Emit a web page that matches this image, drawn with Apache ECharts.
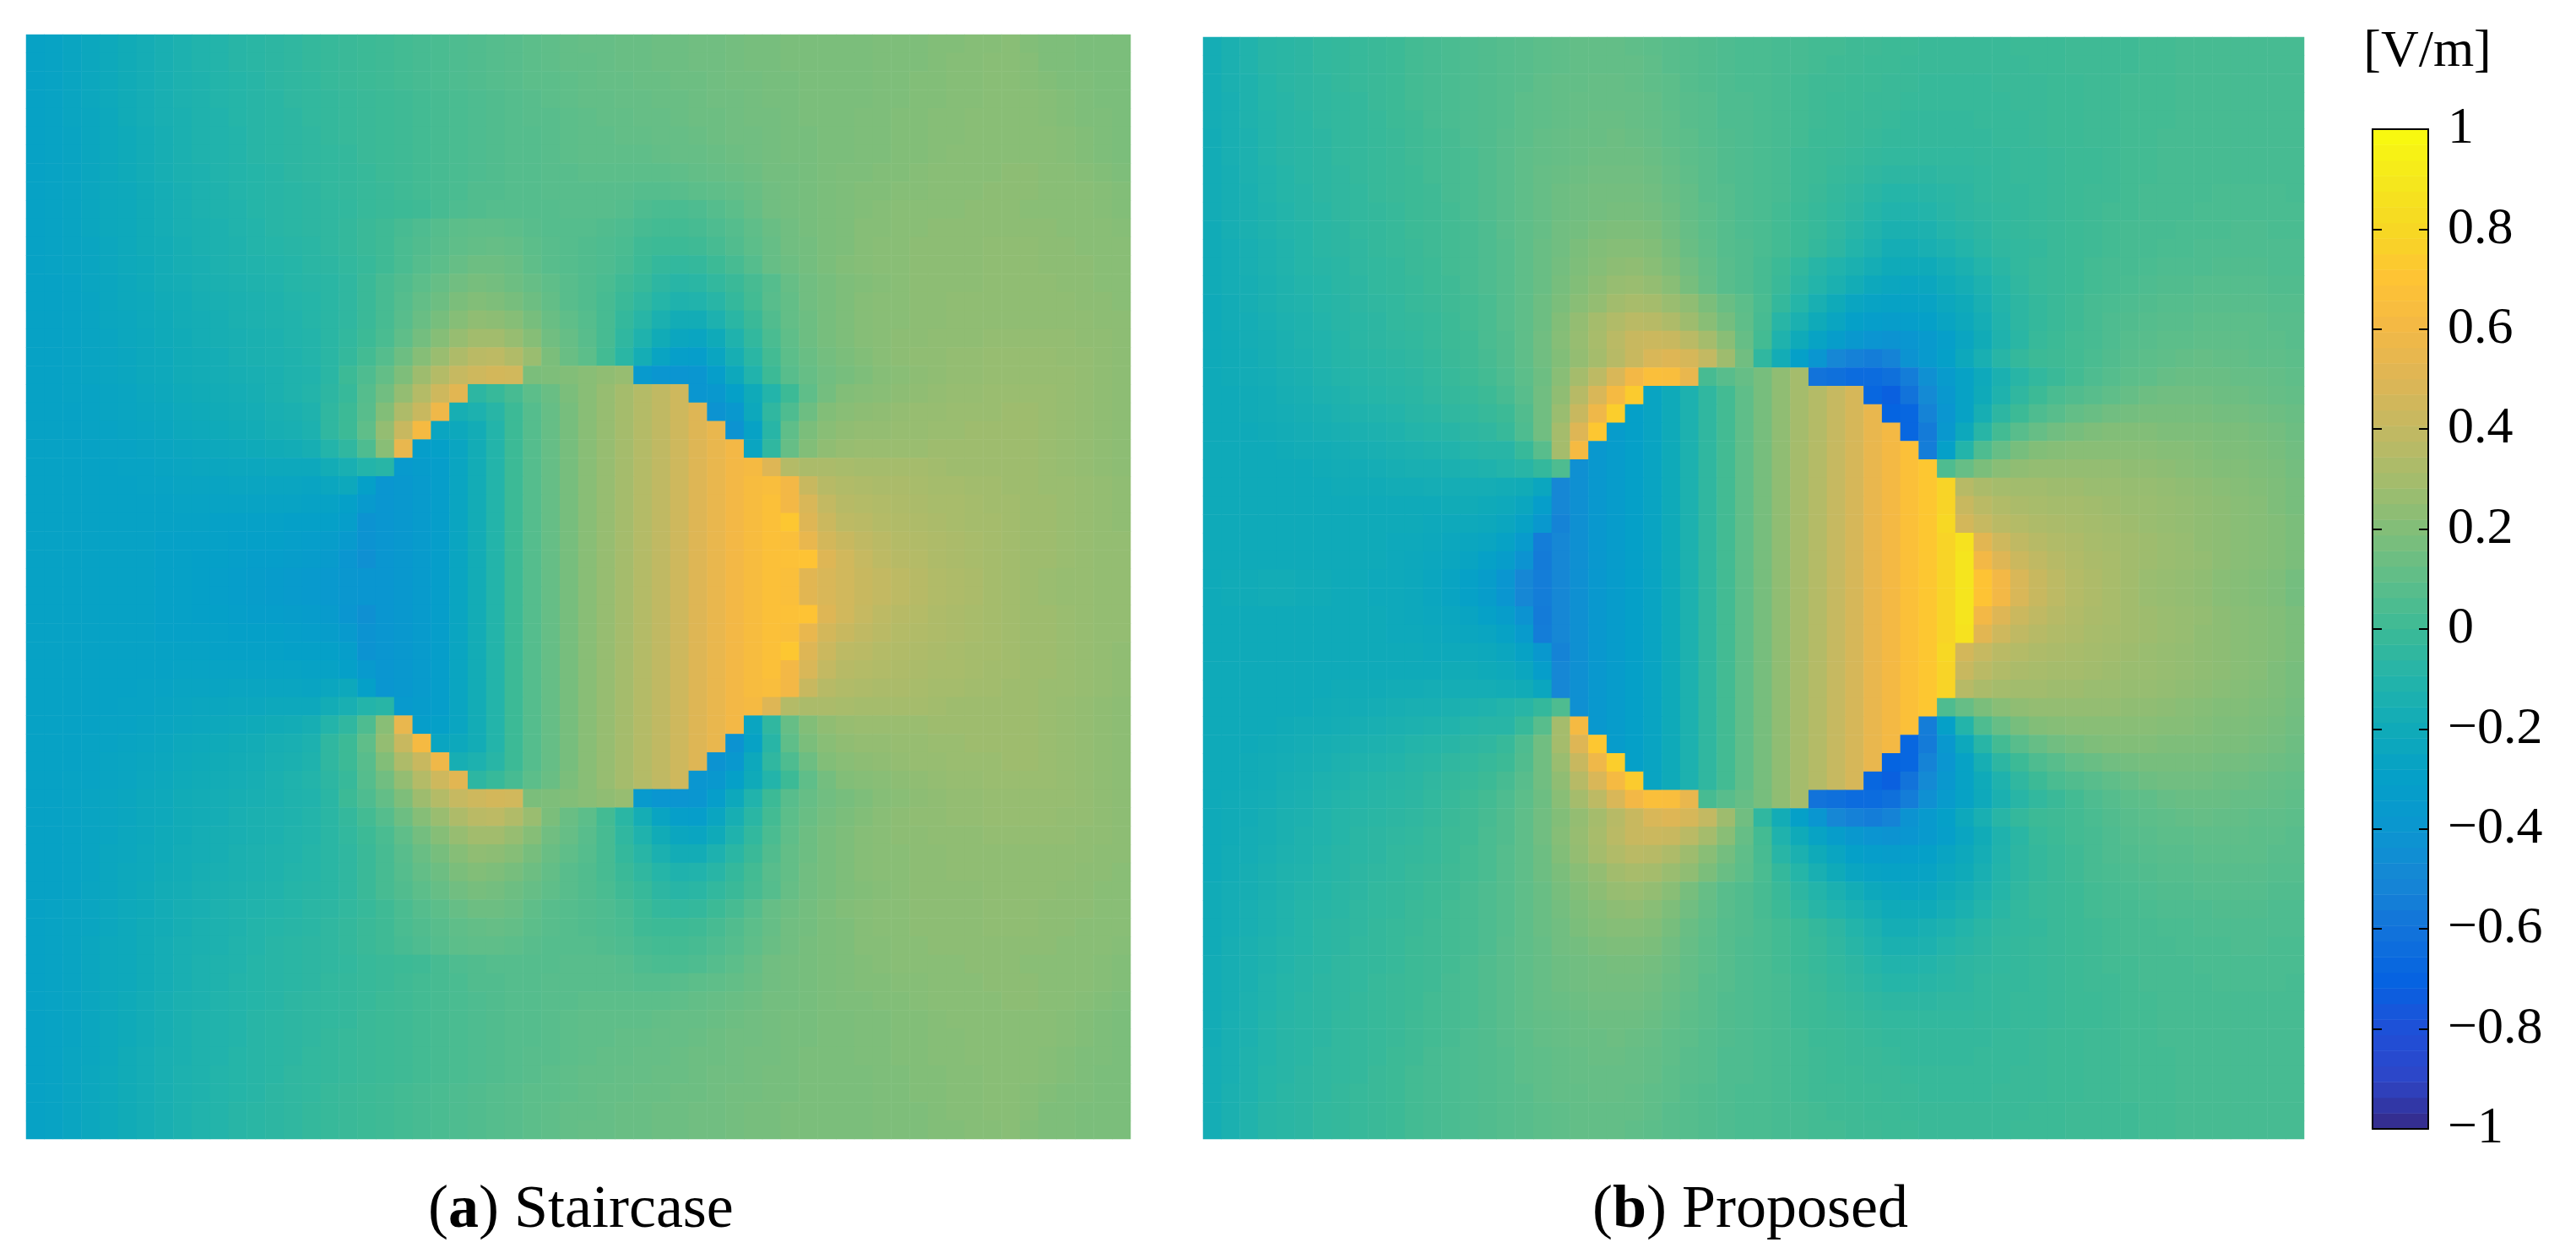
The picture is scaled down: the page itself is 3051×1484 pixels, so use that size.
<!DOCTYPE html>
<html><head><meta charset="utf-8">
<style>html,body{margin:0;padding:0;background:#fff}#c{width:3051px;height:1484px}</style>
<script src="https://cdn.jsdelivr.net/npm/echarts@6/dist/echarts.min.js"></script>
</head><body><div id="c"></div>
<script>
// Field values in hundredths of V/m, top half of each panel (60 columns); the bottom half is the mirror image.
const staircaseTopRows = [
[-28,-27,-25,-23,-21,-19,-17,-15,-13,-11,-10,-8,-7,-6,-5,-3,-2,-1,0,1,2,3,4,5,6,7,8,9,10,11,12,12,13,13,14,14,15,15,16,17,17,18,18,18,18,18,19,19,19,20,20,21,21,22,20,19,19,18,18,18],
[-28,-27,-25,-23,-21,-19,-17,-15,-13,-11,-10,-8,-7,-6,-5,-3,-2,-1,0,1,2,3,4,5,6,7,8,9,10,11,11,12,13,13,14,14,15,15,16,17,17,18,18,18,18,18,19,19,19,20,21,21,22,22,21,19,19,18,18,18],
[-28,-27,-25,-23,-21,-19,-17,-15,-13,-12,-10,-9,-8,-6,-5,-4,-2,-1,0,1,2,3,4,5,6,7,8,9,9,10,11,12,12,13,13,14,14,15,16,16,17,17,18,18,18,18,19,19,20,20,21,21,22,22,21,20,19,19,18,18],
[-28,-27,-25,-23,-21,-19,-17,-15,-13,-12,-10,-9,-8,-7,-5,-4,-3,-2,-1,0,1,2,3,4,5,6,7,8,9,10,11,11,12,12,13,13,14,15,15,16,17,17,18,18,18,18,19,19,20,20,21,21,22,22,22,21,20,19,18,18],
[-28,-27,-25,-24,-22,-19,-17,-15,-14,-12,-11,-9,-8,-7,-6,-4,-3,-2,-1,0,1,2,3,4,5,6,7,8,8,9,10,11,11,12,12,13,14,14,15,16,16,17,18,18,18,19,19,20,20,21,21,22,22,22,22,21,20,19,19,18],
[-28,-27,-26,-24,-22,-20,-18,-16,-14,-12,-11,-10,-8,-7,-6,-5,-3,-2,-1,0,1,2,3,4,5,6,7,7,8,9,10,10,11,11,12,12,13,14,15,15,16,17,17,18,18,19,19,20,20,21,21,22,22,22,22,22,21,20,19,18],
[-28,-27,-26,-24,-22,-20,-18,-16,-14,-12,-11,-10,-8,-7,-6,-5,-4,-3,-1,0,1,2,3,4,5,6,7,7,8,9,10,10,10,10,11,12,12,13,14,15,16,17,17,18,18,19,19,20,20,21,22,22,22,22,22,22,21,20,19,18],
[-28,-27,-26,-24,-22,-20,-18,-16,-14,-13,-11,-10,-9,-8,-6,-5,-4,-3,-2,0,1,2,3,4,5,6,7,7,8,8,9,9,9,9,9,10,11,12,13,14,16,16,17,18,19,19,20,20,21,22,22,22,22,23,23,22,22,21,20,19],
[-28,-27,-26,-24,-22,-21,-19,-17,-15,-13,-12,-10,-9,-8,-7,-6,-4,-3,-2,-1,1,2,3,4,6,6,7,7,8,8,8,8,8,7,7,8,9,10,11,13,15,16,17,18,19,20,20,21,21,22,22,22,23,23,23,22,22,22,21,20],
[-28,-27,-26,-24,-22,-21,-19,-17,-15,-13,-12,-11,-9,-8,-7,-6,-5,-4,-2,-1,0,1,3,5,6,7,7,7,7,8,8,8,7,5,4,4,5,7,9,12,15,16,17,18,19,20,21,22,22,22,22,23,23,23,22,22,22,22,21,20],
[-28,-27,-26,-24,-22,-21,-19,-17,-15,-14,-13,-11,-10,-8,-7,-6,-5,-3,-1,1,3,5,7,9,10,10,9,8,7,7,7,6,5,3,2,2,3,5,7,10,13,15,17,18,19,21,21,22,22,23,23,23,23,23,23,23,22,22,22,21],
[-28,-27,-26,-25,-23,-21,-19,-18,-16,-14,-13,-12,-10,-9,-8,-7,-5,-3,-1,1,4,6,8,10,11,12,11,9,8,7,6,5,4,1,0,0,1,3,6,9,12,15,16,18,19,21,22,22,23,23,23,23,24,24,24,23,23,22,22,22],
[-28,-27,-26,-25,-23,-21,-20,-18,-16,-15,-13,-12,-11,-10,-9,-7,-6,-4,-2,1,4,7,9,12,14,14,13,10,8,7,6,5,3,0,-3,-4,-3,0,3,7,12,14,16,18,20,21,22,22,23,23,23,23,24,24,24,23,23,23,22,22],
[-28,-28,-27,-25,-24,-22,-20,-18,-17,-15,-14,-13,-12,-11,-9,-8,-7,-5,-1,3,6,9,12,15,17,16,14,12,10,8,6,4,1,-2,-6,-8,-7,-4,-1,3,7,12,15,17,19,20,21,22,23,23,23,23,24,24,24,24,23,23,22,22],
[-28,-28,-27,-26,-24,-22,-21,-19,-18,-16,-15,-14,-13,-12,-10,-9,-7,-5,-1,3,7,11,14,18,20,19,17,14,11,8,6,3,-1,-5,-9,-12,-11,-8,-3,2,8,11,15,17,19,21,22,22,23,23,24,24,24,24,24,24,24,23,23,22],
[-28,-28,-27,-26,-24,-23,-21,-20,-18,-17,-16,-14,-13,-12,-11,-9,-7,-5,-1,3,8,13,17,21,24,23,21,17,13,10,7,3,-3,-8,-14,-18,-18,-13,-7,-1,6,11,14,17,19,21,22,22,23,23,24,24,24,24,24,24,24,24,23,23],
[-28,-28,-27,-26,-25,-23,-22,-20,-19,-17,-16,-15,-14,-13,-11,-10,-7,-4,0,4,10,16,21,26,29,29,26,21,15,12,8,3,-5,-12,-19,-24,-25,-20,-12,-4,4,10,14,17,19,21,22,23,23,24,24,24,25,25,25,25,25,24,24,23],
[-28,-28,-27,-26,-25,-24,-22,-21,-19,-18,-17,-15,-14,-13,-12,-10,-7,-3,2,7,14,21,27,33,37,38,34,27,18,13,9,2,-7,-17,-26,-31,-32,-25,-16,-7,2,9,13,16,18,20,22,23,24,24,25,25,26,26,26,26,25,25,24,23],
[-28,-28,-27,-26,-25,-24,-22,-21,-19,-18,-17,-16,-15,-14,-12,-11,-7,0,5,11,19,28,35,41,44,46,45,18,19,20,22,24,26,-36,-40,-41,-40,-32,-22,-11,0,8,12,15,17,19,21,22,23,24,25,25,26,26,26,26,26,25,24,23],
[-28,-28,-27,-27,-26,-25,-23,-22,-20,-19,-18,-17,-16,-14,-12,-10,-6,-2,7,15,25,35,44,52,-6,-2,3,9,13,18,22,26,30,35,39,44,-40,-38,-30,-20,-10,0,10,16,20,21,22,23,24,25,26,26,27,27,27,27,26,25,24,23],
[-28,-28,-28,-27,-26,-25,-24,-23,-21,-20,-19,-18,-17,-15,-14,-12,-5,0,8,20,33,42,58,-16,-13,-8,0,7,12,17,22,26,30,35,39,44,50,-42,-38,-22,-5,5,14,20,22,23,24,25,26,26,27,27,27,28,28,27,26,25,24,23],
[-28,-28,-28,-27,-27,-26,-25,-24,-22,-21,-20,-19,-18,-16,-15,-13,-5,0,10,25,42,62,-25,-22,-18,-10,0,7,12,17,22,26,30,35,39,44,50,55,-42,-28,-8,10,18,22,24,25,25,26,26,27,27,28,28,28,28,27,26,25,24,23],
[-28,-28,-28,-28,-27,-27,-26,-25,-24,-23,-22,-21,-20,-19,-18,-16,-10,-5,5,22,55,-32,-30,-25,-18,-10,0,7,12,17,22,26,30,35,39,44,50,55,60,-25,-5,12,20,24,26,27,27,27,27,28,28,28,28,28,28,27,26,25,24,23],
[-28,-28,-28,-28,-28,-27,-27,-26,-25,-24,-24,-23,-23,-22,-22,-22,-18,-15,-10,-8,-36,-34,-32,-25,-18,-10,0,7,12,17,22,26,30,35,39,44,50,55,60,62,50,35,32,32,31,30,30,30,30,29,28,28,28,28,28,27,26,25,24,23],
[-28,-28,-28,-28,-28,-28,-27,-27,-26,-26,-26,-25,-25,-25,-25,-26,-24,-22,-30,-40,-38,-35,-32,-25,-18,-10,0,7,12,17,22,26,30,35,39,44,50,55,60,64,65,60,42,36,34,33,32,32,31,30,30,29,29,28,28,27,27,26,25,24],
[-28,-28,-28,-28,-28,-28,-28,-28,-27,-27,-27,-27,-27,-27,-27,-28,-28,-30,-36,-40,-38,-35,-32,-25,-18,-10,0,7,12,17,22,26,30,35,39,44,50,55,60,64,67,60,48,40,36,35,34,33,32,31,31,30,29,29,28,28,27,26,25,24],
[-28,-28,-28,-28,-28,-28,-28,-28,-28,-28,-29,-29,-29,-29,-30,-30,-30,-32,-42,-40,-38,-35,-32,-25,-18,-10,0,7,12,17,22,26,30,35,39,44,50,55,60,64,67,72,50,43,38,37,35,34,33,32,31,30,30,29,28,28,27,26,25,24],
[-28,-28,-28,-28,-28,-28,-28,-29,-29,-29,-29,-30,-30,-30,-31,-32,-33,-36,-42,-40,-38,-35,-32,-25,-18,-10,0,7,12,17,22,26,30,35,39,44,50,55,60,64,67,66,55,46,42,39,37,35,34,33,32,31,30,29,28,28,27,26,25,25],
[-28,-28,-28,-28,-28,-28,-28,-29,-29,-30,-30,-31,-32,-32,-33,-34,-35,-40,-44,-40,-38,-35,-32,-25,-18,-10,0,7,12,17,22,26,30,35,39,44,50,55,60,64,67,68,70,50,45,41,38,36,35,33,32,31,30,29,28,28,27,26,25,25],
[-28,-28,-28,-28,-28,-28,-28,-29,-29,-30,-31,-32,-33,-34,-35,-36,-37,-39,-40,-40,-38,-35,-32,-25,-18,-10,0,7,12,17,22,26,30,35,39,44,50,55,60,64,67,66,52,48,45,42,40,38,36,34,33,32,30,29,28,27,26,26,25,25]
];
const proposedTopRows = [
[-17,-14,-11,-8,-7,-6,-4,-3,-2,-1,0,2,3,4,5,6,7,8,9,10,11,11,11,10,9,8,7,6,5,4,4,3,3,2,2,1,1,0,0,-1,-1,-1,-1,-1,0,0,0,1,1,1,1,2,2,3,3,3,3,3,3,3],
[-17,-14,-11,-8,-7,-6,-4,-3,-2,-1,0,2,3,4,5,6,7,8,9,10,11,11,11,11,10,8,7,6,5,4,4,3,3,2,1,1,0,0,-1,-1,-1,-1,-1,-1,-1,0,0,1,1,1,1,2,2,3,3,3,3,3,3,3],
[-17,-14,-12,-9,-7,-6,-5,-3,-2,-1,0,2,3,4,5,6,7,8,10,11,11,12,12,11,10,9,7,6,5,4,4,3,2,1,1,0,0,-1,-1,-2,-2,-2,-2,-1,-1,-1,0,0,1,1,2,2,2,3,3,3,3,3,3,3],
[-17,-15,-12,-9,-8,-6,-5,-4,-3,-1,0,2,3,4,5,6,7,9,10,11,12,12,12,12,11,9,8,7,5,5,4,3,2,1,0,0,-1,-1,-2,-2,-2,-2,-2,-2,-1,-1,0,0,1,1,2,2,2,3,3,3,3,3,3,3],
[-17,-15,-12,-10,-8,-7,-5,-4,-3,-2,0,1,3,4,5,6,7,9,10,11,12,13,13,12,11,10,8,7,5,5,4,3,2,1,0,-1,-1,-2,-3,-3,-3,-3,-2,-2,-2,-1,0,0,1,1,2,2,2,3,3,3,3,3,3,3],
[-18,-15,-13,-10,-8,-7,-6,-4,-3,-2,-1,1,2,3,5,6,8,9,11,12,13,13,14,13,12,10,9,7,6,5,4,3,2,0,0,-1,-2,-3,-3,-3,-3,-3,-3,-2,-2,-1,0,0,1,1,2,2,3,3,3,3,3,3,3,3],
[-18,-15,-13,-10,-8,-7,-6,-4,-3,-2,-1,1,2,3,4,6,8,10,11,12,13,14,14,14,13,11,9,8,6,5,4,3,1,0,-1,-2,-3,-4,-4,-4,-4,-4,-3,-3,-2,-2,-1,0,0,1,2,2,3,3,3,3,3,3,3,3],
[-18,-16,-13,-11,-9,-7,-6,-5,-3,-2,-1,0,2,3,4,6,8,10,12,13,14,15,15,15,14,12,10,8,6,5,4,3,1,0,-2,-3,-5,-6,-6,-6,-5,-5,-4,-3,-2,-2,-1,0,0,1,2,2,3,3,3,3,3,3,3,3],
[-18,-16,-14,-11,-9,-8,-6,-5,-4,-2,-1,0,1,3,4,6,8,10,12,14,15,16,16,16,15,13,11,8,7,5,4,3,1,-1,-3,-5,-7,-9,-9,-8,-7,-6,-4,-3,-3,-2,-1,0,1,1,2,3,3,3,3,4,4,4,4,3],
[-18,-16,-14,-12,-10,-8,-7,-5,-4,-3,-2,0,1,2,4,6,8,10,12,14,15,16,17,17,16,14,11,9,7,5,4,2,0,-2,-4,-6,-9,-11,-11,-10,-8,-6,-5,-4,-3,-2,-1,0,1,2,2,3,3,3,4,4,4,4,4,4],
[-19,-16,-14,-12,-10,-9,-7,-6,-4,-3,-2,0,1,2,3,5,8,10,12,15,16,18,19,19,18,15,12,9,7,5,4,2,0,-2,-5,-8,-11,-14,-14,-13,-10,-8,-6,-4,-3,-2,-1,0,1,2,3,3,3,4,4,4,5,5,4,4],
[-19,-17,-15,-13,-11,-9,-7,-6,-5,-3,-2,-1,1,2,3,5,7,10,13,15,18,20,21,21,20,17,13,10,7,6,4,2,0,-3,-6,-10,-13,-17,-17,-15,-13,-10,-7,-5,-4,-3,-1,0,1,2,3,3,4,4,5,5,5,5,5,5],
[-19,-17,-15,-13,-11,-9,-8,-7,-5,-4,-3,-1,0,2,3,5,7,10,13,16,19,21,23,24,22,19,15,11,8,6,3,0,-4,-8,-11,-14,-17,-20,-20,-20,-17,-14,-10,-7,-4,-2,-1,0,2,3,3,4,5,5,5,6,6,6,5,5],
[-19,-17,-16,-14,-12,-10,-9,-7,-6,-4,-3,-2,0,1,3,5,7,10,13,17,20,23,26,27,25,22,17,12,8,6,3,-1,-6,-10,-14,-18,-22,-24,-25,-24,-20,-17,-13,-9,-5,-2,-1,0,2,3,4,5,6,6,7,7,7,7,6,6],
[-20,-18,-16,-14,-12,-11,-9,-8,-6,-5,-4,-2,-1,1,2,4,7,10,14,18,22,25,29,31,30,27,24,18,13,9,4,-3,-9,-15,-20,-25,-27,-28,-28,-27,-23,-20,-15,-10,-6,-3,-1,1,3,4,5,6,7,7,8,8,8,8,7,7],
[-20,-18,-17,-15,-13,-12,-10,-8,-7,-6,-4,-3,-2,0,2,4,7,10,14,20,25,30,34,37,36,33,28,22,16,10,3,-8,-14,-20,-25,-30,-32,-33,-32,-30,-26,-22,-17,-11,-6,-3,-1,1,3,5,6,7,8,8,9,9,9,9,8,8],
[-20,-19,-17,-16,-14,-12,-11,-9,-7,-6,-5,-4,-2,0,1,4,6,10,15,21,26,31,37,42,43,42,37,30,22,12,2,-12,-20,-27,-33,-38,-41,-42,-40,-36,-31,-25,-19,-12,-7,-2,0,2,3,5,7,8,9,9,10,10,10,9,9,8],
[-20,-19,-18,-16,-14,-13,-11,-9,-8,-7,-6,-5,-3,-1,1,3,6,10,15,20,25,30,36,42,48,50,47,40,28,15,-5,-18,-30,-40,-50,-53,-55,-52,-42,-36,-30,-22,-15,-8,-3,0,1,2,4,6,8,9,10,11,12,11,11,10,10,9],
[-20,-19,-18,-17,-15,-14,-12,-10,-9,-8,-7,-6,-4,-2,0,2,5,9,14,22,30,38,48,60,66,65,55,3,8,12,17,24,30,-60,-62,-65,-65,-62,-55,-44,-35,-28,-21,-14,-8,-4,-1,2,5,7,9,10,12,13,13,13,12,12,11,10],
[-20,-20,-19,-18,-16,-15,-13,-12,-10,-9,-8,-7,-5,-3,-2,0,3,8,15,24,36,48,62,74,-26,-20,-13,-5,2,10,17,24,30,35,41,47,-68,-72,-60,-48,-38,-28,-20,-12,-5,0,4,6,8,10,12,14,15,15,15,14,14,13,12,11],
[-20,-20,-19,-18,-17,-16,-15,-13,-12,-11,-10,-8,-7,-5,-4,-2,0,6,15,27,42,58,75,-30,-26,-20,-13,-5,2,10,17,24,30,35,41,47,55,-70,-68,-52,-40,-28,-16,-6,0,5,8,11,13,15,16,17,17,17,17,16,16,15,14,13],
[-20,-20,-20,-19,-18,-17,-16,-15,-14,-13,-12,-10,-9,-8,-6,-5,-2,5,15,30,50,72,-34,-30,-26,-20,-13,-5,2,10,17,24,30,35,41,47,55,61,-68,-56,-38,-22,-8,2,8,12,15,17,19,20,20,20,19,19,19,18,18,17,16,14],
[-20,-20,-20,-20,-19,-18,-18,-17,-16,-15,-14,-13,-12,-11,-9,-8,-8,-2,8,30,62,-38,-34,-30,-26,-20,-13,-5,2,10,17,24,30,35,41,47,55,61,67,-55,-30,-10,5,12,17,20,21,22,22,22,22,22,21,21,20,19,19,18,17,15],
[-20,-20,-20,-20,-20,-20,-19,-18,-18,-17,-16,-15,-15,-14,-13,-12,-10,-8,-3,5,-44,-38,-34,-30,-26,-20,-13,-5,2,10,17,24,30,35,41,47,55,61,67,72,5,12,18,22,24,25,25,25,25,25,24,24,23,22,21,20,20,19,18,16],
[-20,-20,-20,-20,-20,-20,-20,-19,-19,-19,-18,-18,-17,-17,-17,-17,-18,-19,-24,-50,-44,-38,-34,-30,-26,-20,-13,-5,2,10,17,24,30,35,41,47,55,61,67,72,78,36,32,30,29,29,28,28,27,27,26,26,25,24,23,22,21,20,19,17],
[-20,-20,-20,-20,-20,-20,-20,-20,-20,-20,-20,-20,-20,-19,-19,-20,-21,-24,-32,-50,-44,-38,-34,-30,-26,-20,-13,-5,2,10,17,24,30,35,41,47,55,61,67,72,78,42,37,34,32,31,30,30,29,28,27,27,26,25,24,23,22,21,19,17],
[-20,-20,-20,-20,-20,-20,-20,-20,-20,-20,-20,-20,-21,-21,-21,-22,-24,-28,-38,-52,-44,-38,-34,-30,-26,-20,-13,-5,2,10,17,24,30,35,41,47,55,61,67,72,80,46,41,37,35,33,32,31,30,29,28,27,26,25,24,23,22,21,20,18],
[-20,-20,-20,-20,-20,-20,-20,-20,-20,-20,-21,-21,-22,-23,-24,-25,-28,-35,-55,-50,-44,-38,-34,-30,-26,-20,-13,-5,2,10,17,24,30,35,41,47,55,61,67,72,78,86,52,44,39,36,34,33,31,30,29,28,27,26,24,23,22,21,20,18],
[-20,-20,-20,-20,-20,-20,-20,-20,-20,-20,-21,-22,-23,-24,-26,-29,-33,-42,-56,-50,-44,-38,-34,-30,-26,-20,-13,-5,2,10,17,24,30,35,41,47,55,61,67,72,78,88,60,50,43,39,36,34,32,31,29,28,27,26,25,23,22,21,20,18],
[-20,-19,-19,-18,-18,-19,-19,-20,-20,-21,-21,-22,-24,-26,-29,-33,-40,-50,-55,-50,-44,-38,-34,-30,-26,-20,-13,-5,2,10,17,24,30,35,41,47,55,61,67,72,78,88,70,60,48,42,38,35,33,31,29,27,26,25,24,22,21,20,19,16]
];
const colorbarLevels = [-984,-953,-922,-891,-859,-828,-797,-766,-734,-703,-672,-641,-609,-578,-547,-516,-484,-453,-422,-391,-359,-328,-297,-266,-234,-203,-172,-141,-109,-78,-47,-16,16,47,78,109,141,172,203,234,266,297,328,359,391,422,453,484,516,547,578,609,641,672,703,734,766,797,828,859,891,922,953,984];
const colorStops = ['#352a87','#2d46c8','#1e50d8','#0564e1','#1273da','#1687d5','#0a96d0','#05a0c8','#0faab9','#23b4aa','#3cba96','#5fbe89','#82be78','#a5bc6c','#c3b962','#deb655','#f3b846','#fec334','#f7d824','#f5e81c','#f9fb0e'];
const panelCaptions = [['a','Staircase'],['b','Proposed']];
const unitLabel = '[V/m]';

const FONT = '"Liberation Serif"';
function cells(topRows) {
  const all = topRows.concat(topRows.slice().reverse());
  const out = [];
  all.forEach((row, y) => row.forEach((v, x) => out.push([x, y, v / 100])));
  return out;
}
const cols = staircaseTopRows[0].map((_, i) => i);
const hiddenCat = (data, gridIndex, inverse) => ({type:'category', data, gridIndex, show:false, inverse:!!inverse});
const frameX = (position) => ({type:'value', gridIndex:3, position, min:0, max:1, z:10,
  axisLine:{show:true, onZero:false, lineStyle:{color:'#000', width:2}}, axisTick:{show:false}, axisLabel:{show:false}, splitLine:{show:false}});
const frameY = (position, labels) => ({type:'value', gridIndex:3, position, min:-1, max:1, interval:0.2, z:10,
  axisLine:{show:true, onZero:false, lineStyle:{color:'#000', width:2}},
  axisTick:{show:true, inside:true, length:11, lineStyle:{color:'#000', width:2}},
  splitLine:{show:false},
  axisLabel: labels ? {show:true, inside:false, margin:23, color:'#000', fontFamily:FONT, fontSize:62, align:'left', padding:[0,0,14,0],
    showMinLabel:true, showMaxLabel:true, hideOverlap:false,
    formatter:(v) => { const a = Math.abs(v); const s = a < 1e-9 ? '0' : (Math.abs(a-1) < 1e-9 ? '1' : a.toFixed(1)); return (v < -1e-9 ? '\u2212' : '') + s; }} : {show:false}});
const heat = (data, xi, yi) => ({type:'heatmap', data, xAxisIndex:xi, yAxisIndex:yi, progressive:0, animation:false, itemStyle:{borderWidth:0}, emphasis:{disabled:true}});

const caption = (x, pair) => ({type:'text', silent:true, style:{
  x, y:1434, text:'{r|(}{b|' + pair[0] + '}{r|)} ' + pair[1], textVerticalAlign:'middle', textAlign:'left',
  font:'72px ' + FONT, fill:'#000',
  rich:{r:{font:'72px ' + FONT, fill:'#000'}, b:{font:'bold 72px ' + FONT, fill:'#000'}}}});

const chart = echarts.init(document.getElementById('c'), null, {renderer:'canvas'});
chart.setOption({
  animation:false, backgroundColor:'#fff', tooltip:{show:false},
  grid:[
    {left:31, top:41, width:1308, height:1308},
    {left:1425, top:44, width:1304, height:1305},
    {left:2810, top:153, width:66, height:1184},
    {left:2810, top:153, width:66, height:1184}
  ],
  xAxis:[hiddenCat(cols,0), hiddenCat(cols,1), hiddenCat(['bar'],2), frameX('bottom'), frameX('top')],
  yAxis:[hiddenCat(cols,0,true), hiddenCat(cols,1,true), hiddenCat(colorbarLevels,2), frameY('left',false), frameY('right',true)],
  visualMap:{type:'continuous', show:false, min:-1, max:1, dimension:2, seriesIndex:[0,1,2], inRange:{color:colorStops}},
  series:[
    heat(cells(staircaseTopRows),0,0),
    heat(cells(proposedTopRows),1,1),
    heat(colorbarLevels.map((v,i) => [0,i,v/1000]),2,2)
  ],
  graphic:[
    caption(507, panelCaptions[0]),
    caption(1886, panelCaptions[1]),
    {type:'text', silent:true, style:{x:2875, y:62, text:unitLabel, font:'62px ' + FONT, fill:'#000', textAlign:'center', textVerticalAlign:'middle'}}
  ]
});
</script></body></html>
